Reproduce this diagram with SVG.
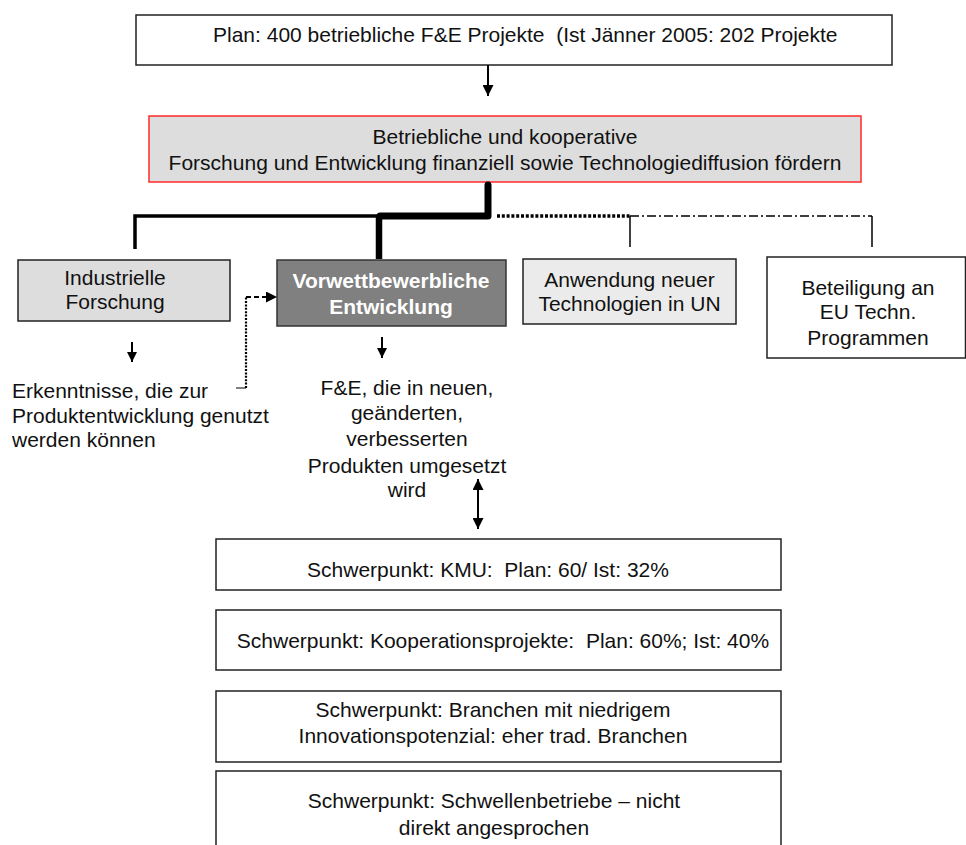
<svg xmlns="http://www.w3.org/2000/svg" width="966" height="845" viewBox="0 0 966 845">
<style>
text{font-family:"Liberation Sans",Arial,sans-serif;font-size:21px;fill:#111;white-space:pre}
.c{text-anchor:middle}
.box{fill:#fff;stroke:#222;stroke-width:1.5}
.w{fill:#fff;font-weight:bold}
.ln{stroke:#000;fill:none}
</style>
<defs>
<marker id="ah" viewBox="0 0 10 10" refX="10" refY="5" markerWidth="11" markerHeight="11" markerUnits="userSpaceOnUse" orient="auto-start-reverse">
<path d="M0,0 L10,5 L0,10 z" fill="#000"/>
</marker>
<marker id="ahs" viewBox="0 0 10 10" refX="10" refY="5" markerWidth="10" markerHeight="10" markerUnits="userSpaceOnUse" orient="auto-start-reverse">
<path d="M0,0 L10,5 L0,10 z" fill="#000"/>
</marker>
</defs>

<g id="plan">
<rect class="box" x="136" y="15" width="756" height="50"/>
<text x="213" y="42" xml:space="preserve">Plan: 400 betriebliche F&amp;E Projekte  (Ist Jänner 2005: 202 Projekte</text>
</g>

<g id="ziel">
<rect x="149" y="116" width="712" height="66" fill="#dddddd" stroke="#ff2a2a" stroke-width="1.5"/>
<text class="c" x="505" y="144">Betriebliche und kooperative</text>
<text class="c" x="505" y="170">Forschung und Entwicklung finanziell sowie Technologiediffusion fördern</text>
</g>

<g id="industrielle">
<rect x="18" y="260" width="212" height="61" fill="#dddddd" stroke="#222" stroke-width="1.5"/>
<text class="c" x="115" y="285">Industrielle</text>
<text class="c" x="115" y="309">Forschung</text>
</g>

<g id="vorwett">
<rect x="277" y="260" width="229" height="66" fill="#808080" stroke="#333" stroke-width="1.5"/>
<text class="c w" x="391" y="288">Vorwettbewerbliche</text>
<text class="c w" x="391" y="314">Entwicklung</text>
</g>

<g id="anwendung">
<rect x="523" y="259" width="213" height="65" fill="#ebebeb" stroke="#222" stroke-width="1.5"/>
<text class="c" x="629.5" y="287">Anwendung neuer</text>
<text class="c" x="629.5" y="311">Technologien in UN</text>
</g>

<g id="beteiligung">
<rect class="box" x="767" y="257" width="198.5" height="101"/>
<text class="c" x="868" y="295">Beteiligung an</text>
<text class="c" x="868" y="319">EU Techn.</text>
<text class="c" x="868" y="345">Programmen</text>
</g>

<g id="erkenntnisse">
<text x="12" y="398">Erkenntnisse, die zur</text>
<text x="12" y="423">Produktentwicklung genutzt</text>
<text x="12" y="447">werden können</text>
</g>

<g id="fue">
<text class="c" x="407" y="395">F&amp;E, die in neuen,</text>
<text class="c" x="407" y="420">geänderten,</text>
<text class="c" x="407" y="446">verbesserten</text>
<text class="c" x="407" y="473">Produkten umgesetzt</text>
<text class="c" x="407" y="497">wird</text>
</g>

<g id="kmu">
<rect class="box" x="216" y="539" width="565" height="51"/>
<text class="c" x="488" y="577" xml:space="preserve">Schwerpunkt: KMU:  Plan: 60/ Ist: 32%</text>
</g>

<g id="koop">
<rect class="box" x="216" y="610" width="565" height="60"/>
<text class="c" x="503" y="648" xml:space="preserve">Schwerpunkt: Kooperationsprojekte:  Plan: 60%; Ist: 40%</text>
</g>

<g id="branchen">
<rect class="box" x="216" y="691" width="565" height="71"/>
<text class="c" x="493" y="717">Schwerpunkt: Branchen mit niedrigem</text>
<text class="c" x="493" y="743">Innovationspotenzial: eher trad. Branchen</text>
</g>

<g id="schwellen">
<rect class="box" x="216" y="771" width="565" height="90"/>
<text class="c" x="494" y="808">Schwerpunkt: Schwellenbetriebe – nicht</text>
<text class="c" x="494" y="835">direkt angesprochen</text>
</g>

<g id="connectors">
<line class="ln" x1="488" y1="65" x2="488" y2="96" stroke-width="2" marker-end="url(#ah)"/>
<path class="ln" d="M488,185 V216 H380" stroke-width="7" stroke-linecap="round" stroke-linejoin="round"/>
<line class="ln" x1="379" y1="216" x2="379" y2="259" stroke-width="6.5"/>
<path class="ln" d="M380,216 H135 V249" stroke-width="3.5" stroke-linejoin="miter"/>
<line class="ln" x1="497" y1="216" x2="630" y2="216" stroke-width="3.5" stroke-dasharray="3 1.8"/>
<line class="ln" x1="630" y1="216" x2="872" y2="216" stroke-width="1.5" stroke-dasharray="9 3 2 3"/>
<line class="ln" x1="630" y1="216" x2="630" y2="247" stroke-width="1.5"/>
<line class="ln" x1="872" y1="216" x2="872" y2="247" stroke-width="1.5"/>
<line class="ln" x1="132" y1="342" x2="132" y2="362" stroke-width="2" marker-end="url(#ahs)"/>
<line class="ln" x1="382" y1="337" x2="382" y2="358" stroke-width="2" marker-end="url(#ahs)"/>
<line class="ln" x1="236" y1="388" x2="246" y2="388" stroke-width="1"/>
<line class="ln" x1="246" y1="388" x2="246" y2="297" stroke-width="2.2" stroke-dasharray="2 1.4"/>
<line class="ln" x1="246" y1="297" x2="277" y2="297" stroke-width="2" stroke-dasharray="5 3" marker-end="url(#ah)"/>
<line class="ln" x1="478" y1="479" x2="478" y2="529" stroke-width="2" marker-start="url(#ah)" marker-end="url(#ah)"/>
</g>
</svg>
